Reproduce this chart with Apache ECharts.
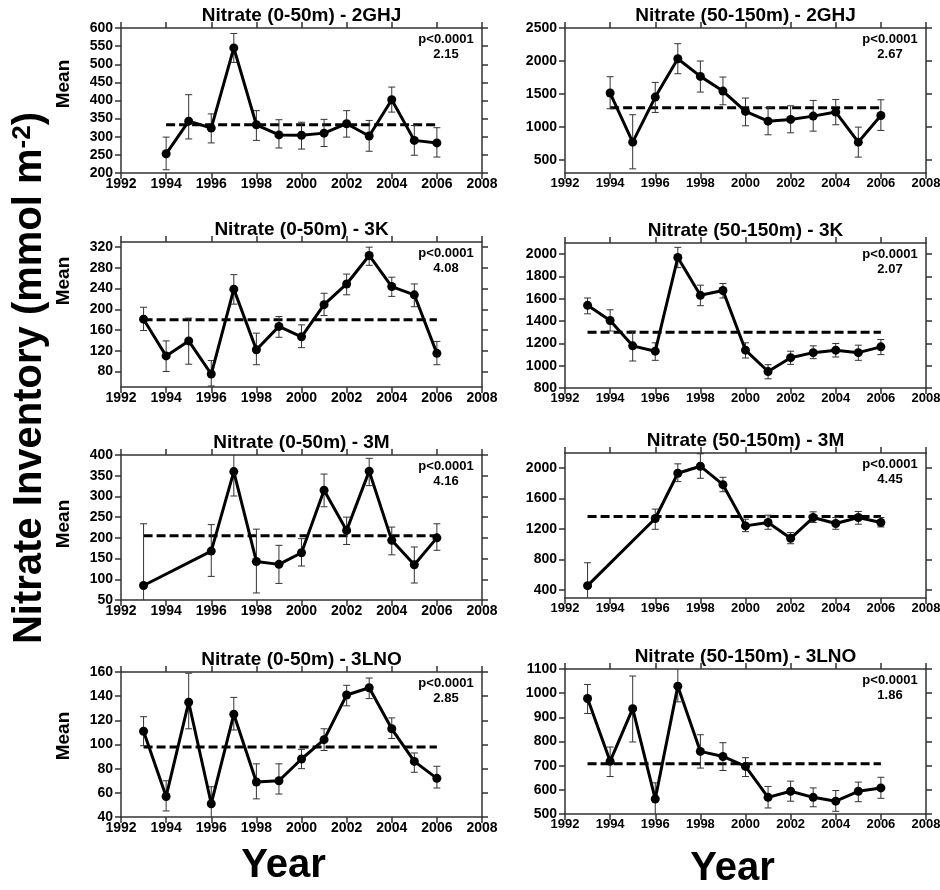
<!DOCTYPE html>
<html>
<head>
<meta charset="utf-8">
<title>Nitrate Inventory</title>
<script src="https://cdn.jsdelivr.net/npm/echarts@6/dist/echarts.min.js"></script>
<style>
  html, body { margin: 0; padding: 0; background: #fff; }
  #chart { width: 940px; height: 890px; }
</style>
</head>
<body>
<div id="chart"></div>
<script>
// ---- data ----
const years2GHJ = [1994, 1995, 1996, 1997, 1998, 1999, 2000, 2001, 2002, 2003, 2004, 2005, 2006];
const years3K = [1993, 1994, 1995, 1996, 1997, 1998, 1999, 2000, 2001, 2002, 2003, 2004, 2005, 2006];
const years3M = [1993, 1996, 1997, 1998, 1999, 2000, 2001, 2002, 2003, 2004, 2005, 2006];
const years3LNO = [1993, 1994, 1995, 1996, 1997, 1998, 1999, 2000, 2001, 2002, 2003, 2004, 2005, 2006];

// 0-50m
const shallow2GHJ = [253, 343, 324, 545, 333, 305, 304, 310, 336, 302, 402, 290, 283];
const shallow2GHJLo = [209, 294, 283, 505, 290, 269, 266, 273, 299, 260, 368, 249, 244];
const shallow2GHJHi = [299, 416, 363, 585, 372, 347, 340, 348, 372, 345, 437, 331, 325];

const shallow3K = [181, 110, 139, 75, 239, 122, 167, 147, 209, 249, 304, 244, 228, 115];
const shallow3KLo = [159, 80, 94, 52, 210, 93, 146, 126, 188, 228, 285, 225, 205, 93];
const shallow3KHi = [204, 139, 183, 101, 267, 154, 186, 170, 231, 268, 320, 262, 249, 138];

const shallow3M = [85, 168, 360, 143, 136, 164, 315, 218, 361, 194, 135, 200];
const shallow3MLo = [35, 107, 301, 67, 90, 132, 275, 184, 326, 159, 91, 170];
const shallow3MHi = [234, 232, 405, 221, 182, 198, 354, 250, 392, 226, 178, 234];

const shallow3LNO = [111, 57, 135, 51, 125, 69, 70, 88, 104, 141, 147, 113, 86, 72];
const shallow3LNOLo = [99, 45, 113, 38, 112, 55, 59, 80, 95, 132, 138, 105, 77, 64];
const shallow3LNOHi = [123, 70, 159, 65, 139, 84, 84, 96, 113, 149, 155, 122, 93, 82];

// 50-150m
const deep2GHJ = [1513, 768, 1452, 2034, 1766, 1543, 1234, 1087, 1113, 1163, 1224, 768, 1173];
const deep2GHJLo = [1275, 363, 1219, 1806, 1528, 1335, 1016, 880, 910, 935, 1032, 541, 946];
const deep2GHJHi = [1761, 1184, 1675, 2262, 1999, 1756, 1437, 1290, 1320, 1401, 1416, 996, 1411];

const deep3K = [1541, 1405, 1178, 1130, 1970, 1631, 1674, 1139, 948, 1072, 1117, 1139, 1117, 1169];
const deep3KLo = [1465, 1311, 1042, 1048, 1879, 1538, 1607, 1069, 882, 1012, 1063, 1078, 1048, 1099];
const deep3KHi = [1607, 1501, 1311, 1205, 2061, 1722, 1737, 1205, 1009, 1130, 1178, 1199, 1184, 1235];

const deep3M = [453, 1337, 1933, 2026, 1783, 1240, 1284, 1076, 1350, 1271, 1350, 1284];
const deep3MLo = [260, 1195, 1823, 1867, 1690, 1164, 1195, 1005, 1284, 1195, 1262, 1226];
const deep3MHi = [754, 1461, 2057, 2190, 1880, 1328, 1381, 1151, 1425, 1350, 1430, 1350];

const deep3LNO = [978, 718, 936, 562, 1029, 759, 738, 697, 569, 594, 569, 553, 594, 608];
const deep3LNOLo = [916, 655, 798, 490, 964, 690, 680, 655, 525, 553, 530, 511, 551, 565];
const deep3LNOHi = [1036, 777, 1071, 629, 1105, 828, 795, 733, 614, 636, 608, 597, 632, 652];

// overall means (dashed lines) and test statistics
const shallowMeans = [333, 180, 205, 98];
const deepMeans = [1290, 1300, 1365, 708];
const shallowStats = ['2.15', '4.08', '4.16', '2.85'];
const deepStats = ['2.67', '2.07', '4.45', '1.86'];
const pText = 'p<0.0001';

// y tick labels and axis ranges
const shallowTicks = [
  [200, 250, 300, 350, 400, 450, 500, 550, 600],
  [80, 120, 160, 200, 240, 280, 320],
  [50, 100, 150, 200, 250, 300, 350, 400],
  [40, 60, 80, 100, 120, 140, 160]
];
const deepTicks = [
  [500, 1000, 1500, 2000, 2500],
  [800, 1000, 1200, 1400, 1600, 1800, 2000],
  [400, 800, 1200, 1600, 2000],
  [500, 600, 700, 800, 900, 1000, 1100]
];
const shallowRange = [[200, 600], [50, 330], [50, 400], [40, 160]];
const deepRange = [[300, 2500], [800, 2100], [290, 2200], [500, 1100]];
const regions = ['2GHJ', '3K', '3M', '3LNO'];

// ---- layout ----
const FONT = '"Liberation Sans", Arial, Helvetica, sans-serif';
const PLOT_W = 361, PLOT_H = 145;
const leftX = 121, rightX = 565;
const topsLeft = [28, 242, 455, 672];
const topsRight = [28, 243, 453, 669];
const meanLabelY = [84, 281, 524, 736];

const yearsByRow = [years2GHJ, years3K, years3M, years3LNO];
const shallowRows = [
  [shallow2GHJ, shallow2GHJLo, shallow2GHJHi],
  [shallow3K, shallow3KLo, shallow3KHi],
  [shallow3M, shallow3MLo, shallow3MHi],
  [shallow3LNO, shallow3LNOLo, shallow3LNOHi]
];
const deepRows = [
  [deep2GHJ, deep2GHJLo, deep2GHJHi],
  [deep3K, deep3KLo, deep3KHi],
  [deep3M, deep3MLo, deep3MHi],
  [deep3LNO, deep3LNOLo, deep3LNOHi]
];

const panels = [];
for (let r = 0; r < 4; r++) {
  panels.push({
    x: leftX, y: topsLeft[r], title: 'Nitrate (0-50m) - ' + regions[r], xFont: 14,
    years: yearsByRow[r], vals: shallowRows[r], mean: shallowMeans[r],
    stat: shallowStats[r], ticks: shallowTicks[r], range: shallowRange[r]
  });
  panels.push({
    x: rightX, y: topsRight[r], title: 'Nitrate (50-150m) - ' + regions[r], xFont: 13,
    years: yearsByRow[r], vals: deepRows[r], mean: deepMeans[r],
    stat: deepStats[r], ticks: deepTicks[r], range: deepRange[r]
  });
}

const axisColor = '#333';
const plain = v => '' + v;

function renderErrorBar (params, api) {
  const yr = api.value(0);
  const top = api.coord([yr, api.value(2)]);
  const bot = api.coord([yr, api.value(1)]);
  const cs = params.coordSys;
  const yMin = cs.y, yMax = cs.y + cs.height;
  const t = Math.max(top[1], yMin);
  const b = Math.min(bot[1], yMax);
  const style = { stroke: '#333', lineWidth: 1 };
  const cap = 3.5;
  const children = [{ type: 'line', shape: { x1: top[0], y1: t, x2: top[0], y2: b }, style: style }];
  if (top[1] >= yMin - 0.5) {
    children.push({ type: 'line', shape: { x1: top[0] - cap, y1: top[1], x2: top[0] + cap, y2: top[1] }, style: style });
  }
  if (bot[1] <= yMax + 0.5) {
    children.push({ type: 'line', shape: { x1: bot[0] - cap, y1: bot[1], x2: bot[0] + cap, y2: bot[1] }, style: style });
  }
  return { type: 'group', children: children };
}

const grid = [], xAxis = [], yAxis = [], series = [], graphic = [];

panels.forEach((p, i) => {
  grid.push({ left: p.x, top: p.y, width: PLOT_W, height: PLOT_H, containLabel: false, outerBoundsMode: 'none' });

  const lineStyle = { color: axisColor, width: 1.5 };
  const xBase = {
    gridIndex: i, type: 'value', min: 1992, max: 2008, interval: 2,
    axisLine: { show: true, onZero: false, lineStyle: lineStyle },
    axisTick: { show: true, inside: false, length: 6, lineStyle: lineStyle },
    splitLine: { show: false }
  };
  xAxis.push(Object.assign({}, xBase, {
    position: 'bottom',
    axisLabel: { show: true, formatter: plain, fontSize: p.xFont, fontWeight: 'bold', color: '#000', fontFamily: FONT, margin: 4, showMinLabel: true, showMaxLabel: true }
  }));
  xAxis.push(Object.assign({}, xBase, { position: 'top', axisLabel: { show: false } }));

  const yBase = {
    gridIndex: i, type: 'value', min: p.range[0], max: p.range[1],
    axisLine: { show: true, onZero: false, lineStyle: lineStyle },
    axisTick: { show: true, inside: false, length: 6, lineStyle: lineStyle, customValues: p.ticks },
    splitLine: { show: false }
  };
  yAxis.push(Object.assign({}, yBase, {
    position: 'left',
    axisLabel: { show: true, customValues: p.ticks, formatter: plain, fontSize: 14, fontWeight: 'bold', color: '#000', fontFamily: FONT, margin: 8 }
  }));
  yAxis.push(Object.assign({}, yBase, { position: 'right', axisLabel: { show: false } }));

  const mean = p.vals[0], lo = p.vals[1], hi = p.vals[2];
  const last = p.years.length - 1;

  series.push({
    type: 'line', xAxisIndex: 2 * i, yAxisIndex: 2 * i, silent: true, z: 1,
    data: [[p.years[0], p.mean], [p.years[last], p.mean]],
    symbol: 'none', lineStyle: { color: '#000', width: 3, type: [9, 4] }
  });
  series.push({
    type: 'custom', xAxisIndex: 2 * i, yAxisIndex: 2 * i, silent: true, z: 2,
    data: p.years.map((yr, k) => [yr, lo[k], hi[k]]),
    renderItem: renderErrorBar
  });
  series.push({
    type: 'line', xAxisIndex: 2 * i, yAxisIndex: 2 * i, silent: true, z: 3,
    data: p.years.map((yr, k) => [yr, mean[k]]),
    symbol: 'circle', symbolSize: 9, showAllSymbol: true,
    lineStyle: { color: '#000', width: 3 },
    itemStyle: { color: '#000', borderWidth: 0 }
  });

  const cx = p.x + PLOT_W / 2;
  graphic.push({
    type: 'text', x: cx, y: p.y - 12,
    style: { text: p.title, font: 'bold 19px ' + FONT, fill: '#000', align: 'center', verticalAlign: 'middle', textAlign: 'center', textVerticalAlign: 'middle' }
  });
  const ax = p.x + PLOT_W - 36;
  graphic.push({
    type: 'text', x: ax, y: p.y + 11,
    style: { text: pText, font: 'bold 13px ' + FONT, fill: '#000', align: 'center', verticalAlign: 'middle', textAlign: 'center', textVerticalAlign: 'middle' }
  });
  graphic.push({
    type: 'text', x: ax, y: p.y + 26,
    style: { text: p.stat, font: 'bold 13px ' + FONT, fill: '#000', align: 'center', verticalAlign: 'middle', textAlign: 'center', textVerticalAlign: 'middle' }
  });
});

// "Mean" labels on left column
meanLabelY.forEach(y => {
  graphic.push({
    type: 'text', x: 64, y: y, rotation: Math.PI / 2,
    style: { text: 'Mean', font: 'bold 19px ' + FONT, fill: '#000', align: 'center', verticalAlign: 'middle', textAlign: 'center', textVerticalAlign: 'middle' }
  });
});

// big axis titles
graphic.push({
  type: 'text', x: 30, y: 378, rotation: Math.PI / 2,
  style: {
    text: 'Nitrate Inventory (mmol m{sup|-2})',
    font: 'bold 40px ' + FONT, fill: '#000',
    align: 'center', verticalAlign: 'middle', textAlign: 'center', textVerticalAlign: 'middle',
    rich: { sup: { font: 'bold 26px ' + FONT, fill: '#000', verticalAlign: 'top' } }
  }
});
graphic.push({
  type: 'text', x: leftX + PLOT_W / 2 - 18, y: 866,
  style: { text: 'Year', font: 'bold 40px ' + FONT, fill: '#000', align: 'center', verticalAlign: 'middle', textAlign: 'center', textVerticalAlign: 'middle' }
});
graphic.push({
  type: 'text', x: rightX + PLOT_W / 2 - 13, y: 869,
  style: { text: 'Year', font: 'bold 40px ' + FONT, fill: '#000', align: 'center', verticalAlign: 'middle', textAlign: 'center', textVerticalAlign: 'middle' }
});

const chart = echarts.init(document.getElementById('chart'), null, { renderer: 'canvas' });
chart.setOption({
  animation: false,
  backgroundColor: '#fff',
  grid: grid,
  xAxis: xAxis,
  yAxis: yAxis,
  series: series,
  graphic: graphic
});
</script>
</body>
</html>
